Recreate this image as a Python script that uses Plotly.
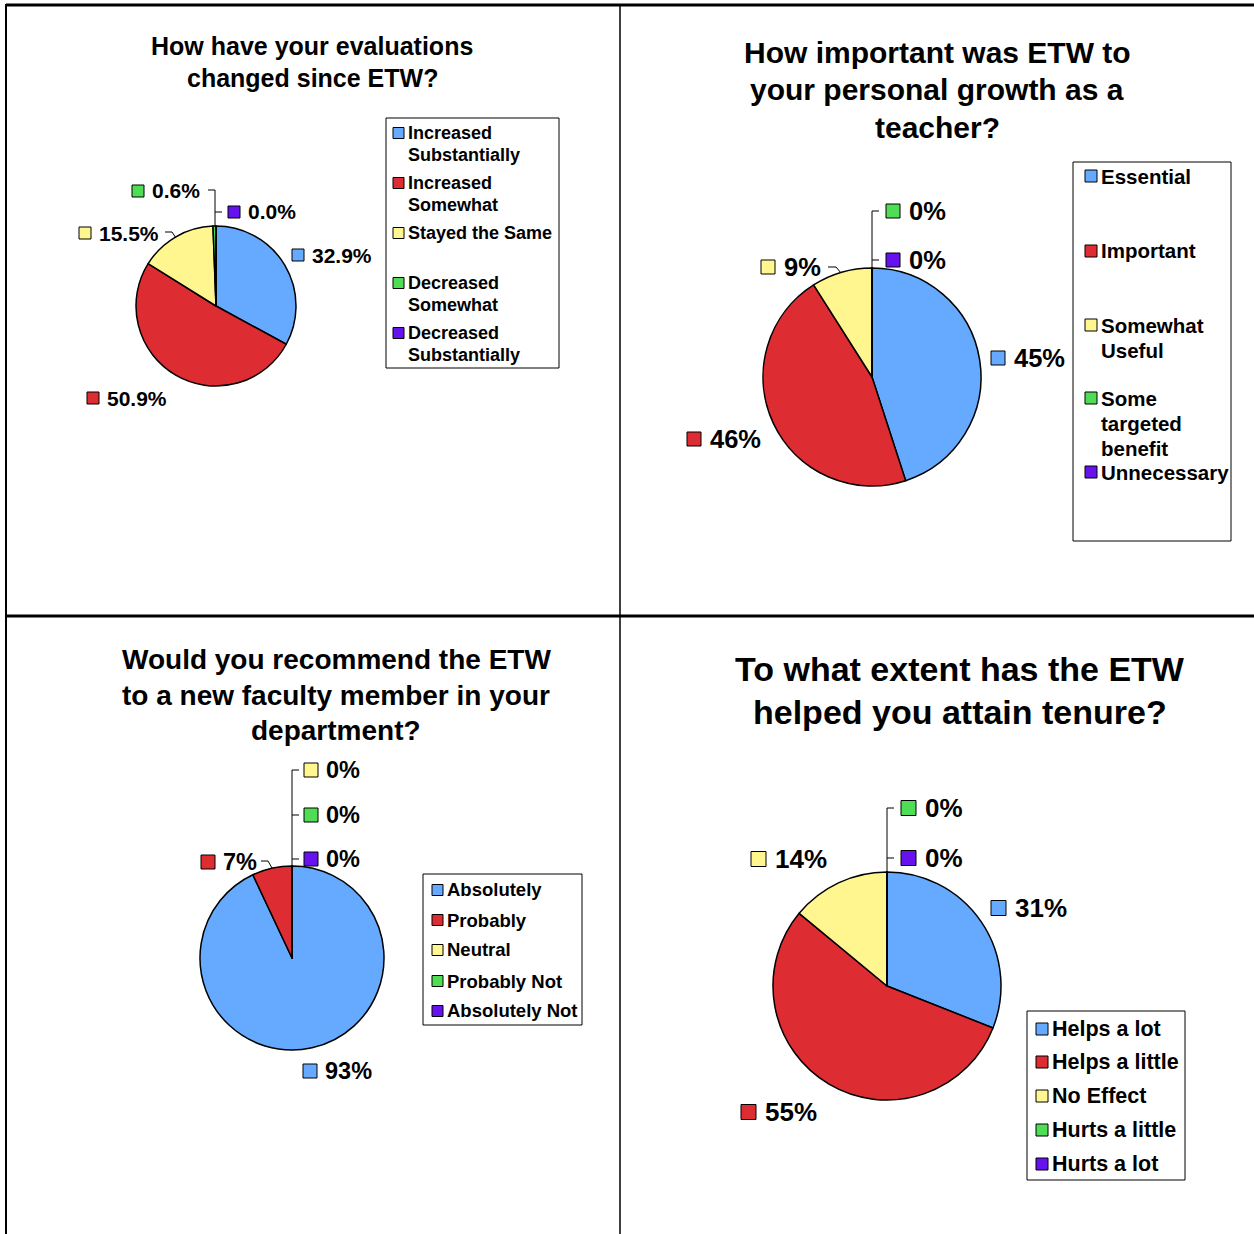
"""Four ETW survey pie charts laid out in a 2x2 table, like the original slide."""

import plotly.graph_objects as go

W, H = 1254, 1234
FONT = "Liberation Sans, Arial, sans-serif"
COLORS = ["#66AAFF", "#DD2D33", "#FFF68F", "#4EDD55", "#6611EE"]

# --- data -------------------------------------------------------------
eval_title = ["How have your evaluations", "changed since ETW?"]
eval_legend = [["Increased", "Substantially"], ["Increased", "Somewhat"], ["Stayed the Same"],
               ["Decreased", "Somewhat"], ["Decreased", "Substantially"]]
eval_vals = [32.9, 50.9, 15.5, 0.6, 0.0]

growth_title = ["How important was ETW to", "your personal growth as a", "teacher?"]
growth_legend = [["Essential"], ["Important"], ["Somewhat", "Useful"],
                 ["Some", "targeted", "benefit"], ["Unnecessary"]]
growth_vals = [45, 46, 9, 0, 0]

rec_title = ["Would you recommend the ETW", "to a new faculty member in your", "department?"]
rec_legend = [["Absolutely"], ["Probably"], ["Neutral"], ["Probably Not"], ["Absolutely Not"]]
rec_vals = [93, 7, 0, 0, 0]

tenure_title = ["To what extent has the ETW", "helped you attain tenure?"]
tenure_legend = [["Helps a lot"], ["Helps a little"], ["No Effect"], ["Hurts a little"], ["Hurts a lot"]]
tenure_vals = [31, 55, 14, 0, 0]


def px(x):
    return x / W


def py(y):
    return 1 - y / H


shapes = []
annotations = []


def line(x0, y0, x1, y1, width=1, color="black"):
    shapes.append(dict(type="line", xref="paper", yref="paper", x0=px(x0), y0=py(y0),
                       x1=px(x1), y1=py(y1), line=dict(color=color, width=width)))


def text(x, y, s, size, anchor="left"):
    annotations.append(dict(x=px(x), y=py(y), text=s, xref="paper", yref="paper",
                            xanchor=anchor, yanchor="middle", showarrow=False,
                            font=dict(family=FONT, size=size, color="black", weight="bold")))


def square(x, y, size, color):
    shapes.append(dict(type="rect", xref="paper", yref="paper", x0=px(x), x1=px(x + size),
                       y0=py(y + size / 2), y1=py(y - size / 2), fillcolor=color,
                       line=dict(color="black", width=1)))


def pie(cx, cy, r, vals, legend):
    return go.Pie(values=vals, labels=[" ".join(l) for l in legend], sort=False,
                  direction="clockwise", rotation=0, textinfo="none", showlegend=False,
                  marker=dict(colors=COLORS, line=dict(color="black", width=1.5)),
                  domain=dict(x=[px(cx - r), px(cx + r)], y=[py(cy + r), py(cy - r)]))


def chart(title, tx, ty, tsize, tgap, legend, box, lx, ly, lsize, lgap, sq,
          vals, fmt, tags, tsq, tfont, tpad):
    for i, t in enumerate(title):
        text(tx, ty + i * tgap, t, tsize, "center")
    shapes.append(dict(type="rect", xref="paper", yref="paper", x0=px(box[0]), x1=px(box[2]),
                       y0=py(box[3]), y1=py(box[1]), line=dict(color="black", width=1)))
    for entry, y, c in zip(legend, ly, COLORS):
        square(lx - sq - 4, y, sq, c)
        for j, t in enumerate(entry):
            text(lx - 2, y + j * lgap, t, lsize)
    for v, (x, y), c in zip(vals, tags, COLORS):
        square(x, y, tsq, c)
        text(x + tsq + tpad, y, fmt.format(v), tfont)


fig = go.Figure()

# top-left
fig.add_trace(pie(216, 306, 80, eval_vals, eval_legend))
chart(eval_title, 312, 46, 25, 32, eval_legend, (386, 118, 559, 368), 408,
      [133, 183, 233, 283, 333], 18, 22, 11, eval_vals, "{:.1f}%",
      [(292, 255), (87, 398), (79, 233), (132, 191), (228, 212)], 12, 21, 6)
line(208, 190, 215, 190)
line(215, 190, 215, 226)
line(215, 212, 222, 212)
line(165, 232, 172, 232)
line(172, 232, 176, 238)

# top-right
fig.add_trace(pie(872, 377, 109, growth_vals, growth_legend))
chart(growth_title, 937, 52, 30, 38, growth_legend, (1073, 162, 1231, 541), 1101,
      [176, 251, 325, 398, 472], 20.5, 25, 12, growth_vals, "{:.0f}%",
      [(991, 358), (687, 439), (761, 267), (886, 211), (886, 260)], 14, 25.5, 7)
line(872, 211, 872, 268)
line(872, 211, 879, 211)
line(872, 260, 879, 260)
line(828, 267, 836, 267)
line(836, 267, 841, 273)

# bottom-left
fig.add_trace(pie(292, 958, 92, rec_vals, rec_legend))
chart(rec_title, 336, 660, 28, 35, rec_legend, (423, 874, 582, 1025), 447,
      [890, 920, 950, 981, 1011], 18.5, 30, 11, rec_vals, "{:.0f}%",
      [(303, 1071), (201, 862), (304, 770), (304, 815), (304, 859)], 14, 23.5, 6)
line(292, 770, 292, 866)
line(292, 770, 299, 770)
line(292, 815, 299, 815)
line(292, 859, 299, 859)
line(261, 861, 268, 861)
line(268, 861, 272, 868)

# bottom-right
fig.add_trace(pie(887, 986, 114, tenure_vals, tenure_legend))
chart(tenure_title, 960, 669, 34, 43, tenure_legend, (1027, 1011, 1185, 1180), 1052,
      [1029, 1062, 1096, 1130, 1164], 21.5, 33, 12, tenure_vals, "{:.0f}%",
      [(991, 908), (741, 1112), (751, 859), (901, 808), (901, 858)], 15, 26, 7)
line(887, 808, 887, 872)
line(887, 808, 894, 808)
line(887, 858, 894, 858)

# table borders
line(6, 5, W, 5, width=3)
line(6, 616, W, 616, width=3)
line(6, 4, 6, H, width=2)
line(620, 4, 620, H, width=1.5)

fig.update_layout(width=W, height=H, margin=dict(l=0, r=0, t=0, b=0),
                  paper_bgcolor="white", plot_bgcolor="white",
                  shapes=shapes, annotations=annotations)

# drop the default page margin so the figure sits at the window origin
fig.write_html("out.html", config={"displayModeBar": False},
               post_script="document.body.style.margin='0';")
